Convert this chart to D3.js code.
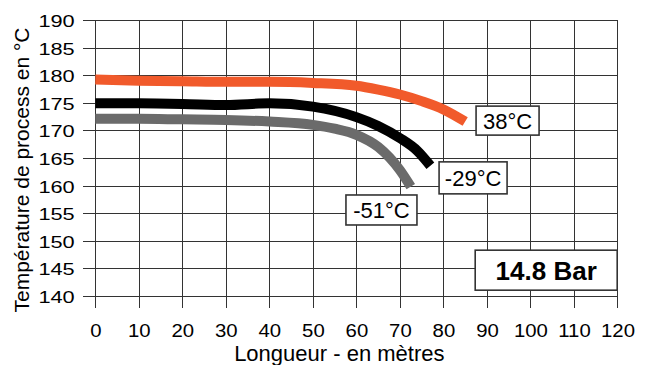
<!DOCTYPE html>
<html>
<head>
<meta charset="utf-8">
<script src="https://cdn.jsdelivr.net/npm/d3@7"></script>
<style>
  body { margin: 0; background: #fff; }
  svg text { font-family: "Liberation Sans", Arial, Helvetica, sans-serif; fill: #000; }
  .grid line { stroke: #333; stroke-width: 1.2px; shape-rendering: crispEdges; }
  .serie { fill: none; stroke-width: 10px; stroke-linecap: butt; }
</style>
</head>
<body>
<div class="chart"></div>
<script>
// valeurs
var xTicks = [0, 10, 20, 30, 40, 50, 60, 70, 80, 90, 100, 110, 120];
var yTicks = [140, 145, 150, 155, 160, 165, 170, 175, 180, 185, 190];

var len38 = [0, 10, 20, 30, 40, 50, 60, 65, 70, 75, 80, 85];
var temp38 = [179.2, 179.0, 178.9, 178.8, 178.8, 178.6, 178.1, 177.4, 176.5, 175.3, 173.8, 171.6];

var len29 = [0, 10, 20, 30, 40, 50, 60, 65, 70, 74, 77];
var temp29 = [174.9, 174.9, 174.8, 174.6, 174.9, 174.3, 172.4, 170.8, 168.6, 166.3, 163.6];

var len51 = [0, 10, 20, 30, 40, 50, 55, 60, 65, 70, 72.5];
var temp51 = [172.1, 172.1, 172.0, 171.9, 171.6, 171.0, 170.3, 169.2, 167.0, 162.8, 159.8];

var series = [
  { name: "38°C",  color: "#f15a2b", x: len38, y: temp38 },
  { name: "-29°C", color: "#000000", x: len29, y: temp29 },
  { name: "-51°C", color: "#6b6b6b", x: len51, y: temp51 }
];

// etiquettes (coin haut-gauche en unites du graphique)
var labels = [
  { text: "38°C",  lx: 87.5, ly: 174.4, w: 63, h: 29, size: 22, bold: false },
  { text: "-29°C", lx: 79.0, ly: 164.3, w: 68, h: 32, size: 22, bold: false },
  { text: "-51°C", lx: 57.6, ly: 158.3, w: 71, h: 30, size: 22, bold: false },
  { text: "14.8 Bar", lx: 87.3, ly: 148.3, w: 142, h: 40, size: 26, bold: true }
];

var W = 650, H = 365;
var margin = { top: 20, right: 32.5, bottom: 69, left: 95.3 },
    width = W - margin.left - margin.right,
    height = H - margin.top - margin.bottom;

var x = d3.scaleLinear().domain([0, 120]).range([0, width]);
var y = d3.scaleLinear().domain([140, 190]).range([height, 0]);

var svg = d3.select(".chart").append("svg")
    .attr("width", W)
    .attr("height", H)
  .append("g")
    .attr("transform", "translate(" + margin.left + "," + margin.top + ")");

// grille
var grid = svg.append("g").attr("class", "grid");
grid.selectAll(".v").data(xTicks).enter().append("line")
    .attr("x1", function(d) { return Math.round(x(d)) + 0.5; })
    .attr("x2", function(d) { return Math.round(x(d)) + 0.5; })
    .attr("y1", y(190))
    .attr("y2", height + 12);
grid.selectAll(".h").data(yTicks).enter().append("line")
    .attr("x1", -12)
    .attr("x2", x(120))
    .attr("y1", function(d) { return Math.round(y(d)) + 0.5; })
    .attr("y2", function(d) { return Math.round(y(d)) + 0.5; });

// axes
var xAxis = d3.axisBottom(x).tickValues(xTicks).tickSize(0).tickPadding(0);
var yAxis = d3.axisLeft(y).tickValues(yTicks).tickSize(0).tickPadding(0);

svg.append("g")
    .attr("class", "x axis")
    .attr("transform", "translate(0," + (height + 41) + ")")
    .call(xAxis)
    .call(function(g) { g.select(".domain").remove(); })
    .selectAll("text")
    .attr("dy", null)
    .attr("y", 0)
    .attr("transform", "scale(1.1,1)")
    .style("font-size", "18.5px");

svg.append("g")
    .attr("class", "y axis")
    .attr("transform", "translate(-20.6,0)")
    .call(yAxis)
    .call(function(g) { g.select(".domain").remove(); })
    .selectAll("text")
    .attr("x", 0)
    .attr("dy", "0.38em")
    .attr("transform", "scale(1.28,1)")
    .style("font-size", "17px");

svg.selectAll(".axis text").style("font-family", "'Liberation Sans', Arial, sans-serif");

svg.append("text")
    .attr("x", 244)
    .attr("y", 340.5)
    .style("text-anchor", "middle")
    .style("font-size", "22px")
    .text("Longueur - en mètres");

svg.append("text")
    .attr("transform", "rotate(-90)")
    .attr("x", -150)
    .attr("y", -66)
    .style("text-anchor", "middle")
    .style("font-size", "21px")
    .text("Température de process en °C");

// courbes
var line = d3.line()
    .curve(d3.curveMonotoneX)
    .x(function(d) { return x(d[0]); })
    .y(function(d) { return y(d[1]); });

svg.selectAll(".serie").data(series).enter().append("path")
    .attr("class", "serie")
    .attr("stroke", function(d) { return d.color; })
    .attr("d", function(d) { return line(d3.zip(d.x, d.y)); });

// etiquettes
var lab = svg.selectAll(".lab").data(labels).enter().append("g")
    .attr("class", "lab")
    .attr("transform", function(d) { return "translate(" + x(d.lx) + "," + y(d.ly) + ")"; });
lab.append("rect")
    .attr("width", function(d) { return d.w; })
    .attr("height", function(d) { return d.h; })
    .attr("fill", "#fff")
    .attr("stroke", "#333")
    .attr("stroke-width", 1.6);
lab.append("text")
    .attr("x", function(d) { return d.w / 2; })
    .attr("y", function(d) { return d.h / 2; })
    .attr("dy", "0.36em")
    .style("text-anchor", "middle")
    .style("font-size", function(d) { return d.size + "px"; })
    .style("font-weight", function(d) { return d.bold ? "bold" : "normal"; })
    .text(function(d) { return d.text; });
</script>
</body>
</html>
